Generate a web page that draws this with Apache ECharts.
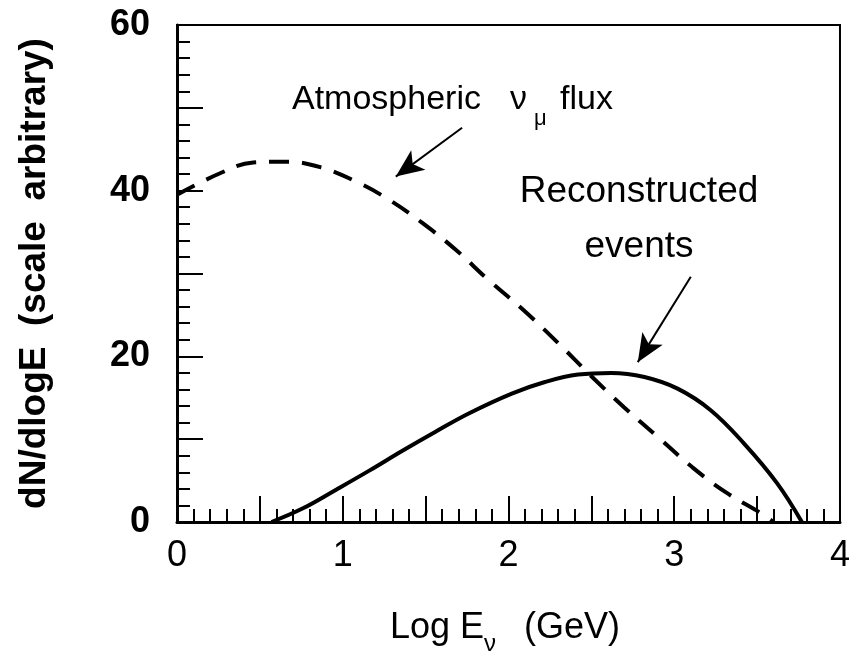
<!DOCTYPE html>
<html>
<head>
<meta charset="utf-8">
<script src="https://cdn.jsdelivr.net/npm/echarts@6/dist/echarts.min.js"></script>
<style>
  * { padding: 0; margin: 0 }
  html, body { width: 100%; height: 100%; background: #fff }
  #container { width: 853px; height: 655px }
</style>
</head>
<body>
<div id="container"></div>
<script>
  // atmospheric nu_mu flux (dashed)
  const atmX = [0, 0.26, 0.46, 0.67, 0.87, 1.08, 1.28, 1.48, 1.68, 1.88, 2.09, 2.30, 2.50, 2.70, 2.91, 3.11, 3.31, 3.52, 3.60];
  const atmY = [39.5, 42.1, 43.4, 43.5, 42.8, 41.1, 38.9, 36.1, 32.9, 29.2, 25.6, 21.6, 17.6, 13.8, 10.1, 6.6, 3.6, 1.1, 0];
  // reconstructed events (solid)
  const recoX = [0.57, 0.76, 0.96, 1.16, 1.36, 1.56, 1.76, 2.02, 2.22, 2.42, 2.62, 2.82, 3.02, 3.22, 3.42, 3.62, 3.77];
  const recoY = [0, 1.65, 3.9, 6.2, 8.6, 10.9, 13.1, 15.5, 16.9, 17.8, 18.0, 17.5, 16.1, 13.5, 9.5, 4.7, 0];
  // arrows: [tail, tip] in data units
  const atmArrow = [[1.72, 47.6], [1.32, 41.7]];
  const recoArrow = [[3.10, 29.6], [2.78, 19.3]];

  const font = 'Liberation Sans, Arial, sans-serif';
  const myChart = echarts.init(document.getElementById('container'));

  function arrowLine(pts) {
    return {
      silent: true,
      symbol: ['none', 'arrow'],
      symbolSize: [18, 28],
      label: { show: false },
      lineStyle: { color: '#000', width: 2, type: 'solid' },
      data: [[{ coord: pts[0] }, { coord: pts[1] }]]
    };
  }

  const text = (x, y, str, size, extra) => ({
    type: 'text', x: x, y: y, silent: true,
    style: Object.assign({
      text: str, fontFamily: font, fontSize: size, fill: '#000',
      textAlign: 'left', textVerticalAlign: 'middle'
    }, extra || {})
  });

  myChart.setOption({
    animation: false,
    grid: {
      left: 177, right: 10, top: 25, bottom: 133,
      show: true, borderColor: '#000', borderWidth: 2
    },
    xAxis: {
      type: 'value', min: 0, max: 4, interval: 0.5,
      axisLine: { lineStyle: { color: '#000', width: 3 } },
      axisTick: { inside: true, length: 26, lineStyle: { color: '#000', width: 2 } },
      minorTick: { show: true, splitNumber: 5, length: 13, lineStyle: { color: '#000', width: 2 } },
      splitLine: { show: false },
      axisLabel: {
        margin: 16, color: '#000', fontSize: 36, fontFamily: font,
        formatter: v => Number.isInteger(v) ? String(v) : ''
      }
    },
    yAxis: {
      type: 'value', min: 0, max: 60, interval: 10,
      name: 'dN/dlogE  (scale  arbitrary)',
      nameLocation: 'middle', nameRotate: 90, nameGap: 124,
      nameTextStyle: { color: '#000', fontSize: 37, fontWeight: 'bold', fontFamily: font },
      axisLine: { lineStyle: { color: '#000', width: 3 } },
      axisTick: { inside: true, length: 26, lineStyle: { color: '#000', width: 2 } },
      minorTick: { show: true, splitNumber: 5, length: 13, lineStyle: { color: '#000', width: 2 } },
      splitLine: { show: false },
      axisLabel: {
        margin: 27, color: '#000', fontSize: 36, fontWeight: 'bold', fontFamily: font,
        formatter: v => v % 20 === 0 ? String(v) : ''
      }
    },
    series: [
      {
        name: 'Atmospheric flux', type: 'line', smooth: 0.4, symbol: 'none',
        data: atmX.map((x, i) => [x, atmY[i]]),
        lineStyle: { color: '#000', width: 4, type: [20, 13] },
        markLine: arrowLine(atmArrow)
      },
      {
        name: 'Reconstructed events', type: 'line', smooth: 0.4, symbol: 'none',
        data: recoX.map((x, i) => [x, recoY[i]]),
        lineStyle: { color: '#000', width: 4 },
        markLine: arrowLine(recoArrow)
      }
    ],
    graphic: [
      text(292, 100, 'Atmospheric', 34),
      text(510, 100, 'ν', 34),
      text(534, 119, 'μ', 22),
      text(560, 100, 'flux', 34),
      text(639, 192, 'Reconstructed', 37, { textAlign: 'center' }),
      text(639, 247, 'events', 37, { textAlign: 'center' }),
      text(390, 628, 'Log E', 36),
      text(484, 644, 'ν', 24),
      text(524, 628, '(GeV)', 36)
    ]
  });
</script>
</body>
</html>
